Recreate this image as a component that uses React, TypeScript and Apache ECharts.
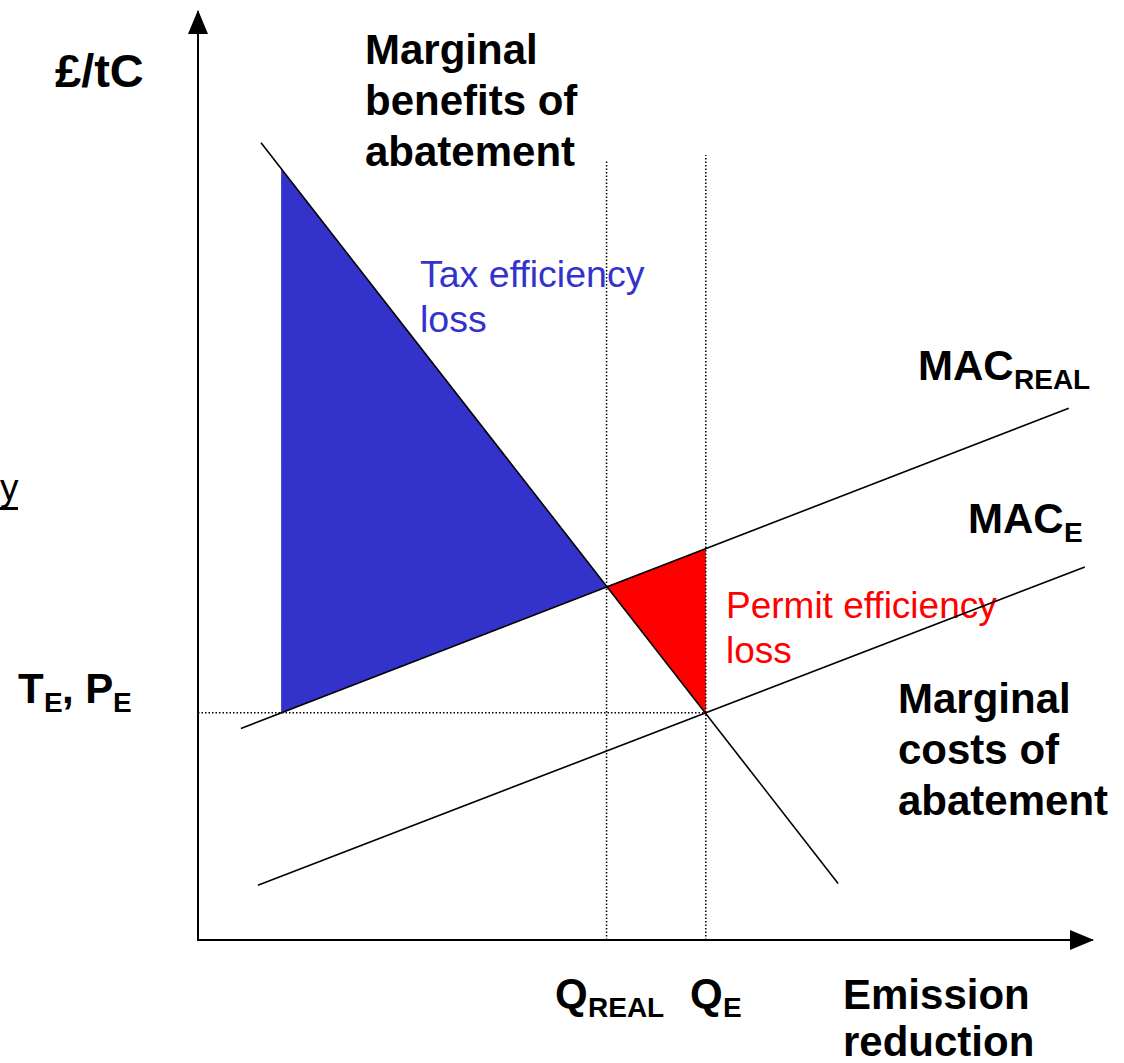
import React, { useEffect, useRef } from "react";
import * as echarts from "echarts";

// Conceptual data (axis units 0..100)
const marginalBenefits: number[][] = [[7.05, 85.9], [71.6, 6.1]];
const macReal: number[][] = [[4.8, 22.8], [97.4, 57.3]];
const macE: number[][] = [[6.7, 5.9], [99.2, 40.2]];
const qReal = 45.7;
const qE = 56.8;
const tE = 24.5;
const qRealTop = 84.1;
const qETop = 84.6;
const taxLoss: number[][] = [[9.3, 83.1], [9.3, 24.5], [45.7, 38.1]];
const permitLoss: number[][] = [[45.7, 38.1], [56.8, 42.2], [56.8, 24.5]];

const FONT = "'Liberation Sans', Arial, sans-serif";

function polySeries(pts: number[][], color: string) {
  return {
    type: "custom",
    data: pts,
    silent: true,
    renderItem: (params: any, api: any) => {
      if (params.dataIndex !== 0) return null;
      return {
        type: "polygon",
        shape: { points: pts.map((p) => api.coord(p)) },
        style: { fill: color },
      };
    },
  };
}

function lineSeries(pts: number[][], dotted = false) {
  return {
    type: "line",
    data: pts,
    symbol: "none",
    silent: true,
    lineStyle: {
      color: "#000",
      width: dotted ? 1.5 : 1.6,
      type: dotted ? [1.5, 2] : "solid",
    },
  };
}

function txt(x: number, cy: number, text: string, opts: any = {}) {
  const fs = opts.fontSize ?? 42;
  const lh = opts.lineHeight ?? fs;
  return {
    type: "text",
    x,
    y: cy - lh / 2,
    silent: true,
    style: {
      text,
      fontSize: fs,
      fontWeight: opts.fontWeight ?? "bold",
      fontFamily: FONT,
      fill: opts.fill ?? "#000",
      lineHeight: lh,
      verticalAlign: "top",
      align: "left",
    },
  };
}

export default function App() {
  const ref = useRef<HTMLDivElement>(null);
  useEffect(() => {
    document.body.style.margin = "0";
    const chart = echarts.init(ref.current!, undefined, { renderer: "svg" });
    const axisBase = {
      type: "value",
      min: 0,
      max: 100,
      axisLabel: { show: false },
      axisTick: { show: false },
      splitLine: { show: false },
      axisLine: {
        show: true,
        symbol: ["none", "triangle"],
        symbolSize: [20, 24],
        symbolOffset: [0, -10],
        lineStyle: { color: "#000", width: 2 },
      },
    };
    const subDy = 14;
    chart.setOption({
      animation: false,
      backgroundColor: "#fff",
      grid: { left: 198, top: 12, width: 894, height: 928 },
      xAxis: axisBase,
      yAxis: axisBase,
      series: [
        polySeries(taxLoss, "#3333CC"),
        polySeries(permitLoss, "#FF0000"),
        lineSeries([[qReal, 0], [qReal, qRealTop]], true),
        lineSeries([[qE, 0], [qE, qETop]], true),
        lineSeries([[0, tE], [qE, tE]], true),
        lineSeries(marginalBenefits),
        lineSeries(macReal),
        lineSeries(macE),
      ],
      graphic: [
        txt(55, 70, "£/tC", { fontSize: 47 }),
        txt(365, 49, "Marginal\nbenefits of\nabatement", { lineHeight: 51 }),
        txt(420, 274, "Tax efficiency\nloss", { fontSize: 37.5, lineHeight: 45, fontWeight: "normal", fill: "#3333CC" }),
        txt(726, 605, "Permit efficiency\nloss", { fontSize: 37, lineHeight: 45, fontWeight: "normal", fill: "#FF0000" }),
        txt(898, 698, "Marginal\ncosts of\nabatement", { lineHeight: 51 }),
        txt(843, 994, "Emission"),
        txt(843, 1041, "reduction"),
        txt(918, 365, "MAC"),
        txt(1014, 365 + subDy, "REAL", { fontSize: 28 }),
        txt(968, 518, "MAC"),
        txt(1064, 518 + subDy, "E", { fontSize: 28 }),
        txt(18, 688, "T"),
        txt(44, 688 + subDy, "E", { fontSize: 28 }),
        txt(62, 688, ", P"),
        txt(113, 688 + subDy, "E", { fontSize: 28 }),
        txt(555, 993, "Q"),
        txt(588, 993 + subDy, "REAL", { fontSize: 28 }),
        txt(690, 993, "Q"),
        txt(723, 993 + subDy, "E", { fontSize: 28 }),
        txt(0, 487, "y", { fontSize: 37, fontWeight: "normal" }),
        { type: "rect", shape: { x: 0, y: 507, width: 18, height: 3 }, style: { fill: "#000" }, silent: true },
      ],
    });
    return () => chart.dispose();
  }, []);
  return <div ref={ref} style={{ width: 1124, height: 1063 }} />;
}
